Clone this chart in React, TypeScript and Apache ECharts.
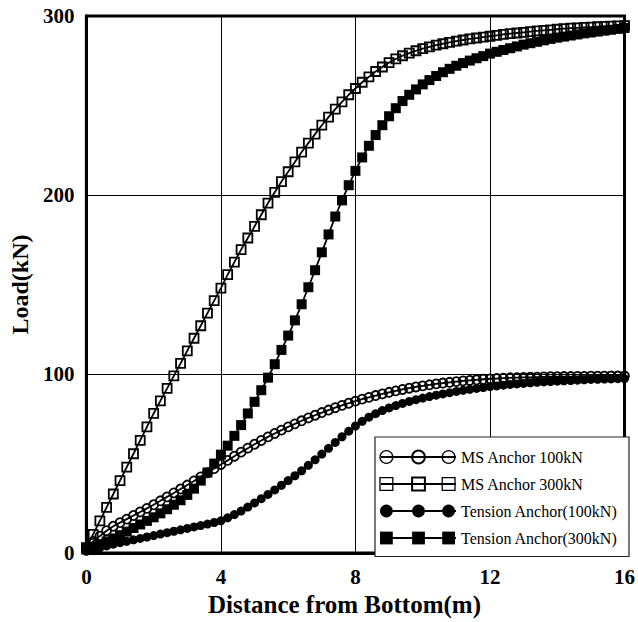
import React, { useEffect, useRef } from "react";
import * as echarts from "echarts";

// Distance from bottom (m)
const distance = [
  0, 0.2, 0.4, 0.6, 0.8, 1, 1.2, 1.4, 1.6, 1.8, 2, 2.2, 2.4, 2.6, 2.8, 3, 3.2, 3.4, 3.6, 3.8,
  4, 4.2, 4.4, 4.6, 4.8, 5, 5.2, 5.4, 5.6, 5.8, 6, 6.2, 6.4, 6.6, 6.8, 7, 7.2, 7.4, 7.6, 7.8,
  8, 8.2, 8.4, 8.6, 8.8, 9, 9.2, 9.4, 9.6, 9.8, 10, 10.2, 10.4, 10.6, 10.8, 11, 11.2, 11.4, 11.6, 11.8,
  12, 12.2, 12.4, 12.6, 12.8, 13, 13.2, 13.4, 13.6, 13.8, 14, 14.2, 14.4, 14.6, 14.8, 15, 15.2, 15.4, 15.6, 15.8,
  16,
];

// Load (kN)
const msAnchor100 = [
  3, 6.5, 9.5, 12.5, 15, 17, 19, 21, 23, 25, 27, 29.2, 31.4, 33.6, 35.8, 38, 40.3, 42.6, 44.9, 47.2,
  49.5, 51.8, 54.1, 56.4, 58.6, 60.8, 62.9, 64.9, 66.8, 68.7, 70.5, 72.2, 73.9, 75.5, 77, 78.5, 79.9, 81.2, 82.5, 83.7,
  84.9, 86, 87, 88, 88.9, 89.8, 90.6, 91.4, 92.1, 92.8, 93.4, 94, 94.5, 95, 95.4, 95.8, 96.2, 96.5, 96.8, 97.1,
  97.3, 97.5, 97.7, 97.9, 98, 98.1, 98.2, 98.3, 98.4, 98.5, 98.5, 98.6, 98.6, 98.7, 98.7, 98.8, 98.8, 98.8, 98.9, 98.9,
  98.9,
];

const msAnchor300 = [
  3, 10.5, 18, 25.5, 33, 40.5, 48, 55.5, 63, 70.5, 78, 85, 92, 99, 106, 113, 120, 127, 134, 141,
  148, 155.5, 162.5, 169.5, 176, 182.5, 189, 195.5, 201.5, 207.5, 213, 218.5, 224, 229, 234, 239, 243.5, 248, 252, 256,
  259.5, 263, 266, 269, 271.5, 274, 276, 277.8, 279.3, 280.6, 281.8, 282.8, 283.7, 284.5, 285.3, 286, 286.6, 287.2, 287.7, 288.2,
  288.7, 289.2, 289.7, 290.1, 290.5, 290.9, 291.3, 291.7, 292, 292.3, 292.6, 292.9, 293.2, 293.4, 293.6, 293.8, 294, 294.2, 294.4, 294.5,
  294.6,
];

const tension100 = [
  1, 2, 3, 4, 5, 5.8, 6.6, 7.4, 8.2, 9, 9.8, 10.6, 11.4, 12.2, 13, 13.8, 14.6, 15.4, 16.2, 17.1,
  18, 19.7, 21.5, 23.5, 25.7, 28, 30.4, 32.8, 35.3, 37.9, 40.5, 43.2, 46, 49, 52.1, 55.3, 58.5, 61.8, 65, 68.1,
  71, 73.6, 75.9, 77.9, 79.6, 81.1, 82.4, 83.6, 84.7, 85.7, 86.6, 87.4, 88.2, 88.9, 89.6, 90.3, 90.9, 91.5, 92, 92.5,
  93, 93.4, 93.8, 94.2, 94.5, 94.8, 95.1, 95.4, 95.6, 95.8, 96, 96.2, 96.4, 96.6, 96.8, 97, 97.1, 97.2, 97.3, 97.4,
  97.5,
];

const tension300 = [
  2, 3.5, 5, 6.5, 8.2, 10, 12, 14, 16, 18, 20, 22.2, 24.5, 27, 29.5, 32.5, 36, 40.5, 45, 50,
  55, 60, 65.5, 71.5, 78, 84.5, 91, 98, 105.5, 113.5, 121.5, 130, 139, 148.5, 158, 168, 178, 188, 197, 205.5,
  213.5, 221, 227.5, 233.5, 239, 244, 248.5, 252.5, 256, 259, 261.8, 264.2, 266.5, 268.6, 270.5, 272.2, 273.7, 275.1, 276.4, 277.6,
  279, 280, 281, 282, 283, 284, 284.8, 285.6, 286.4, 287.2, 287.9, 288.5, 289.1, 289.7, 290.3, 290.8, 291.3, 291.8, 292.3, 292.8,
  293.3,
];

const seriesNames = [
  "MS Anchor 100kN",
  "MS Anchor 300kN",
  "Tension Anchor(100kN)",
  "Tension Anchor(300kN)",
];

export default function App() {
  const ref = useRef<HTMLDivElement>(null);

  useEffect(() => {
    if (!ref.current) return;
    const chart = echarts.init(ref.current, null, { renderer: "svg" });
    const serif = "Liberation Serif";
    const pair = (ys: number[]) => distance.map((x, i) => [x, ys[i]]);

    const lineStyle = { color: "#000", width: 1.8 };
    const hollow = { color: "rgba(0,0,0,0)", borderColor: "#000", borderWidth: 1.8 };
    const filled = { color: "#000", borderColor: "#000", borderWidth: 0 };

    // extra legend markers at both ends of each legend line
    const legendLeft = 380;
    const legendItemW = 75;
    const legendTop = 449;
    const rowPitch = 27;
    const ms = 12.8;
    const ends = [legendLeft + ms / 2, legendLeft + legendItemW - ms / 2];
    const extra: any[] = [];
    [0, 1, 2, 3].forEach((row) => {
      const cy = legendTop + 8 + row * rowPitch;
      ends.forEach((cx) => {
        const isCircle = row === 0 || row === 2;
        const isFilled = row >= 2;
        const style = isFilled
          ? { fill: "#000", stroke: "#000", lineWidth: 0 }
          : { fill: "rgba(0,0,0,0)", stroke: "#000", lineWidth: 1.3 };
        if (isCircle) {
          extra.push({ type: "circle", z: 10, silent: true, shape: { cx, cy, r: ms / 2 }, style });
        } else {
          extra.push({
            type: "rect",
            z: 10,
            silent: true,
            shape: { x: cx - ms / 2, y: cy - ms / 2, width: ms, height: ms },
            style,
          });
        }
      });
    });

    chart.setOption({
      animation: false,
      backgroundColor: "#fff",
      textStyle: { fontFamily: serif },
      grid: {
        left: 86,
        right: 8,
        top: 16,
        bottom: 64,
        show: true,
        borderColor: "#000",
        borderWidth: 3,
        backgroundColor: "#fff",
      },
      xAxis: {
        type: "value",
        min: 0,
        max: 16,
        interval: 4,
        axisLine: { show: true, lineStyle: { color: "#000", width: 3 } },
        axisTick: { show: false },
        axisLabel: {
          fontFamily: serif,
          fontWeight: "bold",
          fontSize: 21,
          color: "#000",
          margin: 13,
        },
        splitLine: { show: true, lineStyle: { color: "#000", width: 1 } },
        name: "Distance from Bottom(m)",
        nameLocation: "middle",
        nameGap: 36,
        nameTextStyle: {
          fontFamily: serif,
          fontWeight: "bold",
          fontSize: 25,
          color: "#000",
          padding: [0, 22, 0, 0],
        },
      },
      yAxis: {
        type: "value",
        min: 0,
        max: 300,
        interval: 100,
        axisLine: { show: true, lineStyle: { color: "#000", width: 3 } },
        axisTick: { show: false },
        axisLabel: {
          fontFamily: serif,
          fontWeight: "bold",
          fontSize: 21,
          color: "#000",
          margin: 12,
        },
        splitLine: { show: true, lineStyle: { color: "#000", width: 1 } },
        name: "Load(kN)",
        nameLocation: "middle",
        nameGap: 53,
        nameTextStyle: {
          fontFamily: serif,
          fontWeight: "bold",
          fontSize: 24,
          color: "#000",
        },
      },
      legend: {
        data: seriesNames,
        orient: "vertical",
        left: legendLeft,
        top: legendTop,
        padding: 0,
        itemWidth: legendItemW,
        itemHeight: 16,
        itemGap: rowPitch - 16,
        selectedMode: false,
        textStyle: { fontFamily: serif, fontSize: 16, color: "#000", lineHeight: 16 },
      },
      graphic: [
        {
          type: "rect",
          z: 3,
          silent: true,
          shape: { x: 375, y: 437, width: 254, height: 119.5 },
          style: { fill: "#fff", stroke: "#222", lineWidth: 1.2 },
        },
        ...extra,
      ],
      series: [
        {
          name: seriesNames[1],
          type: "line",
          data: pair(msAnchor300),
          symbol: "rect",
          symbolSize: 9,
          showSymbol: true,
          showAllSymbol: true,
          lineStyle,
          itemStyle: hollow,
          z: 2,
        },
        {
          name: seriesNames[0],
          type: "line",
          data: pair(msAnchor100),
          symbol: "circle",
          symbolSize: 9,
          showSymbol: true,
          showAllSymbol: true,
          lineStyle,
          itemStyle: hollow,
          z: 2,
        },
        {
          name: seriesNames[2],
          type: "line",
          data: pair(tension100),
          symbol: "circle",
          symbolSize: 9,
          showSymbol: true,
          showAllSymbol: true,
          lineStyle,
          itemStyle: filled,
          z: 2,
        },
        {
          name: seriesNames[3],
          type: "line",
          data: pair(tension300),
          symbol: "rect",
          symbolSize: 10,
          showSymbol: true,
          showAllSymbol: true,
          lineStyle,
          itemStyle: filled,
          z: 2,
        },
      ],
    });

    return () => chart.dispose();
  }, []);

  return (
    <div
      ref={ref}
      style={{ position: "fixed", left: 0, top: 0, width: 638, height: 622 }}
    />
  );
}
